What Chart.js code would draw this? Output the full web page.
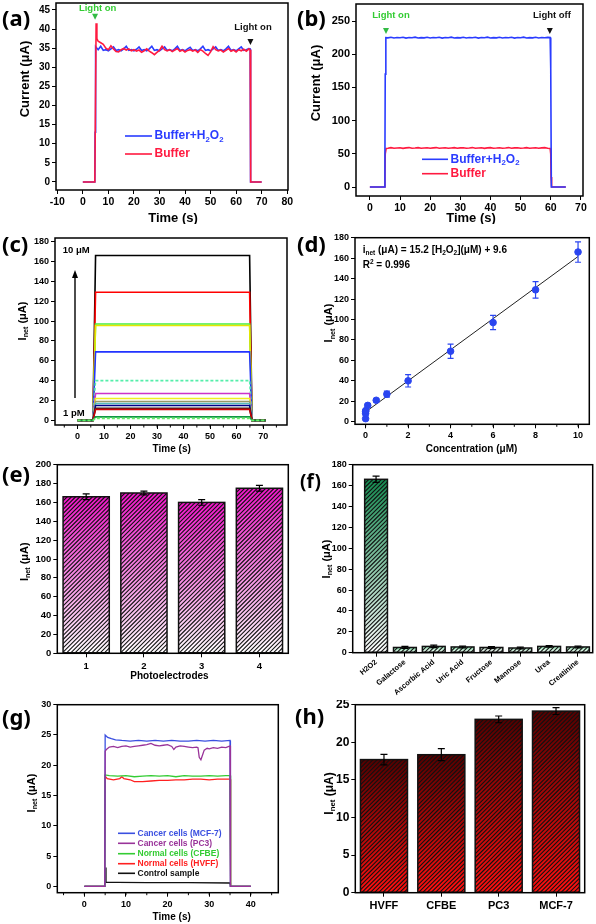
<!DOCTYPE html>
<html>
<head>
<meta charset="utf-8">
<script src="https://cdn.jsdelivr.net/npm/chart.js@4.4.1/dist/chart.umd.min.js"></script>
<style>
  body { margin: 0; background: #fff; width: 596px; height: 924px; position: relative; overflow: hidden; }
  canvas { position: absolute; }
  .lbl { position: absolute; font: bold 22px "Noto Sans", sans-serif; line-height: 22px; color: #000; }
</style>
</head>
<body>
<canvas id="ca" style="left:0;top:0" width="296" height="224"></canvas>
<canvas id="cb" style="left:296px;top:0" width="300" height="224"></canvas>
<canvas id="cc" style="left:0;top:225px" width="296" height="235"></canvas>
<canvas id="cd" style="left:296px;top:225px" width="300" height="235"></canvas>
<canvas id="ce" style="left:0;top:460px" width="296" height="240"></canvas>
<canvas id="cf" style="left:296px;top:460px" width="300" height="240"></canvas>
<canvas id="cg" style="left:0;top:700px" width="296" height="224"></canvas>
<canvas id="ch" style="left:296px;top:700px" width="300" height="224"></canvas>
<div class="lbl" style="left:2px;top:6px">(a)</div>
<div class="lbl" style="left:297px;top:6px">(b)</div>
<div class="lbl" style="left:2px;top:232px">(c)</div>
<div class="lbl" style="left:297px;top:232px">(d)</div>
<div class="lbl" style="left:2px;top:462px">(e)</div>
<div class="lbl" style="left:300px;top:470px;font-size:19px">(f)</div>
<div class="lbl" style="left:2px;top:705px">(g)</div>
<div class="lbl" style="left:295px;top:704px">(h)</div>
<script>
const FONT = "'Liberation Sans', Arial, sans-serif";

// ---------- data ----------
// (a) photocurrent, [time s, current uA]
const aBuffer = [[0,0],[4.7,0],[5.2,41.5],[5.5,37.5],
  [6,36.8],[7,36.4],[8,36.0],[9,35.0],[10,34.6],[11,35.6],[12,34.8],[13,34.1],[14,34.0],[15,34.6],
  [16,34.9],[17,34.5],[18,34.8],[19,34.3],[20,34.6],[21,34.2],[22,34.5],[23,33.9],[24,34.3],[25,34.8],
  [26,34.2],[27,33.8],[28,33.3],[29,33.9],[30,34.4],[31,35.5],[32,34.6],[33,34.3],[34,34.6],[35,34.1],
  [36,34.5],[37,34.9],[38,34.2],[39,34.5],[40,34.0],[41,34.4],[42,34.6],[43,34.2],[44,34.5],[45,33.9],
  [46,34.6],[47,34.2],[48,33.6],[49,33.1],[50,34.0],[51,35.4],[52,34.6],[53,34.3],[54,34.5],[55,34.0],
  [56,34.4],[57,34.9],[58,34.2],[59,34.5],[60,34.0],[61,34.6],[62,34.3],[63,34.7],[64,34.2],
  [65,34.8],[65.5,34.5],[65.6,20],[65.8,0],[70,0]];
const aBufferH2O2 = [[0,0],[4.7,0],[4.8,13],[4.9,15],[5.1,35.4],
  [6,34.6],[7,35.5],[8,34.4],[9,34.6],[10,34.3],[11,34.8],[12,35.3],[13,34.4],[14,34.6],[15,34.3],
  [16,34.8],[17,35.5],[18,34.4],[19,34.6],[20,34.3],[21,34.7],[22,35.3],[23,34.4],[24,34.6],[25,34.3],
  [26,34.8],[27,35.5],[28,34.4],[29,34.6],[30,34.3],[31,34.8],[32,35.3],[33,34.4],[34,34.6],[35,34.3],
  [36,34.8],[37,35.5],[38,34.4],[39,34.6],[40,34.3],[41,34.8],[42,35.2],[43,34.4],[44,34.6],[45,34.3],
  [46,34.8],[47,35.5],[48,34.4],[49,34.6],[50,34.3],[51,34.8],[52,35.3],[53,34.4],[54,34.6],[55,34.3],
  [56,34.8],[57,35.5],[58,34.4],[59,34.6],[60,34.3],[61,34.8],[62,35.3],[63,34.4],[64,34.6],
  [65,34.9],[65.5,34.8],[65.6,25],[65.7,0],[70,0]];

// (b)
const bBufferH2O2 = [[0,0],[4.8,0],[5.0,50],[5.1,170],[5.3,225],
  [6,224.6],[7,225.5],[8,224.4],[9,225.2],[10,224.7],[11,225.6],[12,224.3],[13,225.1],[14,224.8],[15,225.7],
  [16,224.5],[17,225.0],[18,224.6],[19,225.6],[20,224.4],[21,225.2],[22,224.7],[23,225.5],[24,224.3],[25,225.1],
  [26,224.8],[27,225.7],[28,224.5],[29,225.0],[30,224.6],[31,225.5],[32,224.4],[33,225.2],[34,224.7],[35,225.6],
  [36,224.3],[37,225.1],[38,224.8],[39,225.7],[40,224.5],[41,225.0],[42,224.6],[43,225.5],[44,224.4],[45,225.2],
  [46,224.7],[47,225.6],[48,224.3],[49,225.1],[50,224.8],[51,225.7],[52,224.5],[53,225.0],[54,224.6],[55,225.5],
  [56,224.4],[57,225.2],[58,224.7],[59,225.3],
  [59.8,225],[60.0,178],[60.2,0],[65,0]];
const bBuffer = [[0,0],[4.8,0],[5.0,15],[5.1,50],[5.4,58],
  [6,58.4],[7,59.3],[8,58.5],[9,58.8],[10,59.2],[11,58.3],[12,58.9],[13,59.4],[14,58.5],[15,58.7],
  [16,59.3],[17,58.4],[18,58.8],[19,59.2],[20,58.5],[21,58.9],[22,59.4],[23,58.3],[24,58.7],[25,59.2],
  [26,58.4],[27,58.8],[28,59.3],[29,58.5],[30,58.9],[31,59.2],[32,58.4],[33,58.7],[34,59.4],[35,58.5],
  [36,58.8],[37,59.2],[38,58.3],[39,58.9],[40,59.3],[41,58.5],[42,58.7],[43,59.2],[44,58.4],[45,58.8],
  [46,59.4],[47,58.5],[48,58.9],[49,59.2],[50,58.3],[51,58.7],[52,59.3],[53,58.4],[54,58.8],[55,59.2],
  [56,58.5],[57,58.9],[58,59.3],[59,58.4],
  [59.8,58],[60.0,50],[60.1,15],[60.3,0],[65,0]];

// (c) step responses: on at ~6 s, off at ~65.5 s, plateau levels (uA)
const cTime = [0, 5.8, 6.8, 64.9, 65.8, 71];
const cLevels = [166, 129, 97, 95.5, 69, 40, 27, 22, 19, 17, 15, 12, 11, 3.5, 2];
const cColors = ['#000000', '#ff0000', '#44ee44', '#e6e600', '#2233ff', '#55eeaa', '#cc33cc', '#eeee22',
                 '#999966', '#55bbbb', '#000088', '#222222', '#cc0000', '#119944', '#66ee66'];

// (d) calibration
const dConc = [0, 0, 0, 0.01, 0.1, 0.5, 1, 2, 4, 6, 8, 10];
const dInet = [3, 8, 10, 11, 16, 21, 27, 40, 69, 97, 129, 166];
const dErr  = [0, 0, 1, 1, 1, 1.5, 3, 6, 7, 7, 8, 10];
const dFitX = [0, 10];
const dFitY = [9.6, 161.6];

// (e) reproducibility
const eLabels = ['1', '2', '3', '4'];
const eInet = [166, 170, 160, 175];
const eErr = [3, 2, 3, 3];

// (f) selectivity
const fLabels = ['H2O2', 'Galactose', 'Ascorbic Acid', 'Uric Acid', 'Fructose', 'Mannose', 'Urea', 'Creatinine'];
const fPos = [1, 2, 3, 4, 5, 6, 7, 8];
const fInet = [166, 5, 6, 5.5, 5, 4.5, 6, 5.5];
const fErr = [3, 1, 1.2, 0.8, 0.8, 0.8, 0.8, 0.8];
const fTopColors = ['#138a4f', '#6fd39a', '#8fdcae', '#7fd7a4', '#a8c8b4', '#9fdcb8', '#8fdcae', '#8fdcae'];

// (g) cell samples, [time s, current uA]
const gMCF7 = [[0,0],[4.9,0],[5.0,25.0],[5.6,24.6],[6.5,24.4],[7.5,24.2],[9,24.1],[11,24.0],[13,24.1],[15,24.0],
  [17,24.1],[19,24.0],[21,24.1],[23,24.0],[25,24.0],[27,24.1],[29,24.0],[31,24.1],[33,24.0],[35,24.1],[35.1,0],[40,0]];
const gPC3 = [[0,0],[4.9,0],[5.0,22.3],[5.3,22.6],[6,23.0],[7,23.1],[8,22.9],[9,23.1],[10,23.2],[11,23.0],
  [12,23.1],[13,23.2],[14,23.3],[15,23.4],[16,23.6],[17,23.3],[18,23.2],[19,23.3],[20,23.4],[21,23.1],
  [21.5,22.6],[22,23.0],[23,23.2],[24,23.1],[25,23.0],[26,22.9],[27,23.0],[27.3,22.9],[27.6,21.3],[28,20.9],
  [28.4,21.7],[28.8,22.5],[29.5,22.8],[30,22.7],[31,22.9],[32,22.8],[33,23.0],[34,22.9],[35,23.2],[35.1,0],[40,0]];
const gCFBE = [[0,0],[4.9,0],[5,18.4],[6,18.3],[8,18.2],[10,18.3],[12,18.1],[14,18.2],[16,18.3],[18,18.2],
  [20,18.3],[22,18.1],[24,18.3],[26,18.2],[28,18.2],[30,18.3],[32,18.2],[34,18.3],[35,18.3],[35.1,13],[35.2,0],[40,0]];
const gHVFF = [[0,0],[4.9,0],[5,18.2],[5.5,17.8],[7,17.6],[8.5,17.8],[9,18.1],[9.5,17.8],[11,17.6],[12,17.3],
  [14,17.3],[16,17.4],[18,17.5],[20,17.5],[22,17.6],[24,17.6],[26,17.7],[28,17.7],[30,17.6],[32,17.7],
  [34,17.7],[35,17.7],[35.1,13.4],[35.2,0],[40,0]];
const gControl = [[0,0],[4.9,0],[5,3.1],[5.2,0.7],[8,0.65],[15,0.6],[25,0.6],[35,0.55],[35.1,0],[40,0]];

// (h) cell lines
const hLabels = ['HVFF', 'CFBE', 'PC3', 'MCF-7'];
const hInet = [17.7, 18.35, 23.05, 24.15];
const hErr = [0.7, 0.8, 0.45, 0.45];

// ---------- helpers ----------
const INET = [['I', ''], ['net', 'sub'], [' (μA)', '']];

function rich(ctx, parts, x, y, size, color, align, rot) {
  ctx.save();
  ctx.translate(x, y);
  if (rot) ctx.rotate(rot);
  ctx.fillStyle = color;
  ctx.textBaseline = 'middle';
  ctx.textAlign = 'left';
  const sz = p => (p[1] ? size * 0.65 : size);
  let total = 0;
  parts.forEach(p => { ctx.font = `bold ${sz(p)}px ${FONT}`; total += ctx.measureText(p[0]).width; });
  let cx = align === 'center' ? -total / 2 : 0;
  parts.forEach(p => {
    ctx.font = `bold ${sz(p)}px ${FONT}`;
    const dy = p[1] === 'sub' ? size * 0.3 : p[1] === 'sup' ? -size * 0.3 : 0;
    ctx.fillText(p[0], cx, dy);
    cx += ctx.measureText(p[0]).width;
  });
  ctx.restore();
}

function tri(c, tx, ty, color) {
  const x = c.scales.x.getPixelForValue(tx), y = c.scales.y.getPixelForValue(ty);
  const ctx = c.ctx;
  ctx.save();
  ctx.fillStyle = color;
  ctx.beginPath(); ctx.moveTo(x - 3, y - 6); ctx.lineTo(x + 3, y - 6); ctx.lineTo(x, y); ctx.closePath(); ctx.fill();
  ctx.restore();
}

function dataText(c, parts, tx, ty, size, color) {
  rich(c.ctx, parts, c.scales.x.getPixelForValue(tx), c.scales.y.getPixelForValue(ty), size, color, 'center', 0);
}

function legendRow(ctx, x1, x2, y, color, parts, size, textColor) {
  ctx.save();
  ctx.strokeStyle = color; ctx.lineWidth = 1.6;
  ctx.beginPath(); ctx.moveTo(x1, y); ctx.lineTo(x2, y); ctx.stroke();
  ctx.restore();
  rich(ctx, parts, x2 + 2.5, y, size, textColor, 'left', 0);
}

// short minor tick marks on the bottom axis
function minorX(c, step) {
  const s = c.scales.x, ctx = c.ctx, b = c.chartArea.bottom;
  ctx.save();
  ctx.strokeStyle = '#000'; ctx.lineWidth = 1;
  ctx.beginPath();
  for (let v = Math.ceil(s.min / step) * step; v <= s.max; v += step) {
    const x = s.getPixelForValue(v);
    ctx.moveTo(x, b); ctx.lineTo(x, b + 2.5);
  }
  ctx.stroke();
  ctx.restore();
}

function line(pairs, color, width, dash) {
  return {
    data: pairs.map(p => ({ x: p[0], y: p[1] })),
    showLine: true, borderColor: color, borderWidth: width, borderDash: dash || [],
    pointRadius: 0, tension: 0, fill: false
  };
}

function barGradient(tops, bottom) {
  return c => {
    const ch = c.chart;
    const top = Array.isArray(tops) ? tops[c.dataIndex || 0] : tops;
    if (!ch.chartArea || c.raw === undefined) return top;
    const v = typeof c.raw === 'number' ? c.raw : c.raw.y;
    const ys = ch.scales.y;
    const g = ch.ctx.createLinearGradient(0, ys.getPixelForValue(v), 0, ys.getPixelForValue(0));
    g.addColorStop(0, top);
    g.addColorStop(1, bottom);
    return g;
  };
}

const framePlugin = {
  id: 'frame',
  afterDraw(c) {
    const a = c.chartArea, ctx = c.ctx;
    ctx.save();
    ctx.strokeStyle = '#000'; ctx.lineWidth = 1.5;
    ctx.strokeRect(a.left, a.top, a.right - a.left, a.bottom - a.top);
    ctx.restore();
  }
};

const hatchPlugin = {
  id: 'hatch',
  afterDatasetsDraw(c) {
    const ctx = c.ctx;
    c.data.datasets.forEach((ds, i) => {
      if (!ds.hatch) return;
      c.getDatasetMeta(i).data.forEach(bar => {
        const p = bar.getProps(['x', 'y', 'base', 'width'], true);
        const l = p.x - p.width / 2, t = Math.min(p.y, p.base), h = Math.abs(p.base - p.y), w = p.width;
        ctx.save();
        ctx.beginPath(); ctx.rect(l, t, w, h); ctx.clip();
        ctx.strokeStyle = ds.hatch.color; ctx.lineWidth = ds.hatch.width;
        ctx.beginPath();
        for (let s = -h; s < w + h; s += ds.hatch.gap) { ctx.moveTo(l + s, t + h); ctx.lineTo(l + s + h, t); }
        ctx.stroke();
        ctx.restore();
        ctx.save();
        ctx.strokeStyle = '#111'; ctx.lineWidth = 1.5;
        ctx.strokeRect(l, t, w, h);
        ctx.restore();
      });
    });
  }
};

const errorPlugin = {
  id: 'errs',
  afterDatasetsDraw(c) {
    const ctx = c.ctx, ys = c.scales.y;
    c.data.datasets.forEach((ds, i) => {
      if (!ds.errors) return;
      c.getDatasetMeta(i).data.forEach((pt, j) => {
        const e = ds.errors[j];
        if (!e) return;
        const raw = ds.data[j];
        const v = typeof raw === 'number' ? raw : raw.y;
        const y1 = ys.getPixelForValue(v + e), y2 = ys.getPixelForValue(v - e);
        const cw = ds.errCap || 3;
        ctx.save();
        ctx.strokeStyle = ds.errColor || '#000'; ctx.lineWidth = 1.2;
        ctx.beginPath();
        ctx.moveTo(pt.x, y1); ctx.lineTo(pt.x, y2);
        ctx.moveTo(pt.x - cw, y1); ctx.lineTo(pt.x + cw, y1);
        ctx.moveTo(pt.x - cw, y2); ctx.lineTo(pt.x + cw, y2);
        ctx.stroke();
        ctx.restore();
      });
    });
  }
};

function axis(o, which) {
  const ax = {
    type: o.type || 'linear',
    offset: o.type === 'category',
    grid: { display: true, drawOnChartArea: false, drawTicks: true, tickLength: 4, color: '#000', lineWidth: 1, offset: false },
    border: { display: false },
    ticks: {
      autoSkip: false, includeBounds: false,
      maxRotation: o.rot || 0, minRotation: o.rot || 0,
      padding: o.pad === undefined ? 2 : o.pad, color: '#000',
      font: { family: FONT, size: o.font, weight: 'bold' }
    },
    afterFit: which === 'y'
      ? s => { s.width = o.fit; s.paddingTop = 0; s.paddingBottom = 0; }
      : s => { s.height = o.fit; s.paddingLeft = 0; s.paddingRight = 0; }
  };
  if (o.min !== undefined) ax.min = o.min;
  if (o.max !== undefined) ax.max = o.max;
  if (o.step) ax.ticks.stepSize = o.step;
  if (o.cb) ax.ticks.callback = o.cb;
  return ax;
}

function makeChart(id, cfg) {
  return new Chart(document.getElementById(id), {
    type: cfg.type,
    data: { labels: cfg.labels, datasets: cfg.datasets },
    options: {
      responsive: false, animation: false, devicePixelRatio: 1,
      layout: { padding: { top: cfg.top, right: cfg.right, left: 0, bottom: 0 } },
      plugins: { legend: { display: false }, tooltip: { enabled: false } },
      scales: { x: axis(cfg.x, 'x'), y: axis(cfg.y, 'y') }
    },
    plugins: [hatchPlugin, errorPlugin, framePlugin, {
      id: 'deco',
      afterDraw(c) {
        const ctx = c.ctx;
        if (cfg.yTitle) rich(ctx, cfg.yTitle.parts, cfg.yTitle.x, cfg.yTitle.y, cfg.yTitle.size, '#000', 'center', -Math.PI / 2);
        if (cfg.xTitle) rich(ctx, cfg.xTitle.parts, cfg.xTitle.x, cfg.xTitle.y, cfg.xTitle.size, '#000', 'center', 0);
        if (cfg.minorX) minorX(c, cfg.minorX);
        if (cfg.deco) cfg.deco(c, ctx);
      }
    }]
  });
}

function bars(values, tops, bottom, errs, pct) {
  return {
    data: values, errors: errs, errCap: 3.5,
    backgroundColor: barGradient(tops, bottom), borderWidth: 0,
    barPercentage: pct, categoryPercentage: 1,
    hatch: { color: '#111', width: 1.1, gap: 4.2 }
  };
}

const H2O2 = [['Buffer+H', ''], ['2', 'sub'], ['O', ''], ['2', 'sub']];

// ---------- (a) ----------
makeChart('ca', {
  type: 'scatter', top: 3, right: 8,
  x: { min: -10.5, max: 80.3, step: 10, fit: 34, font: 10.5 },
  y: { min: -2.1, max: 46.8, step: 5, fit: 56, font: 10 },
  datasets: [line(aBuffer, '#ff1a40', 1.6), line(aBufferH2O2, '#2a3cff', 1.6)],
  yTitle: { parts: [['Current (μA)', '']], x: 25, y: 79, size: 13 },
  xTitle: { parts: [['Time (s)', '']], x: 173, y: 218, size: 13 },
  deco: (c, ctx) => {
    tri(c, 4.8, 42.4, '#33bb44');
    tri(c, 65.6, 35.8, '#111');
    dataText(c, [['Light on', '']], 5.8, 45.3, 9.5, '#33cc33');
    dataText(c, [['Light on', '']], 66.6, 40.5, 9.5, '#111');
    legendRow(ctx, 125, 152, 136, '#2a3cff', H2O2, 12, '#2a3cff');
    legendRow(ctx, 125, 152, 154, '#ff1a40', [['Buffer', '']], 12, '#ff1a40');
  }
});

// ---------- (b) ----------
makeChart('cb', {
  type: 'scatter', top: 4, right: 13,
  x: { min: -4.6, max: 70.7, step: 10, fit: 28, font: 10.5 },
  y: { min: -13.5, max: 275.6, step: 50, fit: 60, font: 11 },
  datasets: [line(bBufferH2O2, '#2a3cff', 1.6), line(bBuffer, '#ff1a40', 1.6)],
  yTitle: { parts: [['Current (μA)', '']], x: 20.7, y: 83, size: 13 },
  xTitle: { parts: [['Time (s)', '']], x: 175, y: 218, size: 13 },
  deco: (c, ctx) => {
    tri(c, 5.35, 230.5, '#33bb44');
    tri(c, 59.7, 230.5, '#111');
    dataText(c, [['Light on', '']], 7.0, 258, 9.5, '#33cc33');
    dataText(c, [['Light off', '']], 60.4, 258, 9.5, '#111');
    legendRow(ctx, 126, 152, 159.3, '#2a3cff', H2O2, 12, '#2a3cff');
    legendRow(ctx, 126, 152, 173.7, '#ff1a40', [['Buffer', '']], 12, '#ff1a40');
  }
});

// ---------- (c) ----------
makeChart('cc', {
  type: 'scatter', top: 13, right: 9, minorX: 5,
  x: { min: -8.5, max: 79, step: 10, fit: 35, font: 9 },
  y: { min: -4.7, max: 183.7, step: 20, fit: 55, font: 9 },
  datasets: cLevels.map((L, i) => Object.assign(
    line(cTime.map((t, k) => [t, (k === 2 || k === 3) ? L : 0]), cColors[i], 1.6,
         (i === 5 || i === 14) ? [3, 2] : []),
    { order: cLevels.length - i })),
  yTitle: { parts: INET, x: 23, y: 96, size: 11 },
  xTitle: { parts: [['Time (s)', '']], x: 171.7, y: 224, size: 10 },
  deco: (c, ctx) => {
    rich(ctx, [['10 μM', '']], 62.7, 25, 9.5, '#000', 'left', 0);
    rich(ctx, [['1 pM', '']], 63, 188.3, 9.5, '#000', 'left', 0);
    ctx.save();
    ctx.strokeStyle = '#000'; ctx.fillStyle = '#000'; ctx.lineWidth = 1.4;
    ctx.beginPath(); ctx.moveTo(75, 173); ctx.lineTo(75, 52); ctx.stroke();
    ctx.beginPath(); ctx.moveTo(72, 53); ctx.lineTo(78, 53); ctx.lineTo(75, 45); ctx.closePath(); ctx.fill();
    ctx.restore();
  }
});

// ---------- (d) ----------
makeChart('cd', {
  type: 'scatter', top: 12.7, right: 6.7, minorX: 1,
  x: { min: -0.5, max: 10.53, step: 2, fit: 35.7, font: 9 },
  y: { min: -2.5, max: 180, step: 20, fit: 59, font: 9 },
  datasets: [
    { data: dConc.map((x, i) => ({ x, y: dInet[i] })), errors: dErr, errColor: '#2a45f0', errCap: 3,
      pointRadius: 3.3, backgroundColor: '#2a45f0', borderColor: '#2a45f0' },
    line(dFitX.map((x, i) => [x, dFitY[i]]), '#222', 1)
  ],
  yTitle: { parts: INET, x: 33.3, y: 98, size: 11 },
  xTitle: { parts: [['Concentration (μM)', '']], x: 175.5, y: 224.3, size: 10 },
  deco: (c, ctx) => {
    rich(ctx, [['i', ''], ['net', 'sub'], [' (μA) = 15.2 [H', ''], ['2', 'sub'], ['O', ''], ['2', 'sub'], ['](μM) + 9.6', '']],
         66.7, 25, 10, '#000', 'left', 0);
    rich(ctx, [['R', ''], ['2', 'sup'], [' = 0.996', '']], 66.7, 40.7, 10, '#000', 'left', 0);
  }
});

// ---------- (e) ----------
makeChart('ce', {
  type: 'bar', top: 4.7, right: 7.7, labels: eLabels,
  x: { type: 'category', fit: 46.7, font: 9.5, pad: 3 },
  y: { min: 0, max: 200, step: 20, fit: 57.3, font: 9.5 },
  datasets: [bars(eInet, '#f014c8', '#ffffff', eErr, 0.8)],
  yTitle: { parts: INET, x: 25, y: 101.7, size: 11 },
  xTitle: { parts: [['Photoelectrodes', '']], x: 169.5, y: 216, size: 10 }
});

// ---------- (f) ----------
makeChart('cf', {
  type: 'bar', top: 4.7, right: 3.3,
  x: { min: 0.19, max: 8.51, step: 1, fit: 47.3, font: 7.5, rot: 40, pad: 1, cb: v => fLabels[v - 1] || '' },
  y: { min: 0, max: 180, step: 20, fit: 56.7, font: 9 },
  datasets: [bars(fPos.map((x, i) => ({ x, y: fInet[i] })), fTopColors, '#ffffff', fErr, 0.79)],
  yTitle: { parts: INET, x: 30.7, y: 99, size: 11 }
});

// ---------- (g) ----------
const gSeries = [
  { pts: gPC3, color: '#993399', name: 'Cancer cells (PC3)', row: 143.3 },
  { pts: gMCF7, color: '#3a4fe0', name: 'Cancer cells (MCF-7)', row: 133.3 },
  { pts: gCFBE, color: '#33cc33', name: 'Normal cells (CFBE)', row: 153.7 },
  { pts: gHVFF, color: '#ff2020', name: 'Normal cells (HVFF)', row: 163.7 },
  { pts: gControl, color: '#111111', name: 'Control sample', row: 173.3 }
];
makeChart('cg', {
  type: 'scatter', top: 4.7, right: 17.7, minorX: 5,
  x: { min: -6.5, max: 46.6, step: 10, fit: 31.3, font: 9 },
  y: { min: -1.05, max: 30, step: 5, fit: 57.3, font: 9 },
  datasets: gSeries.map(s => line(s.pts, s.color, 1.3)),
  yTitle: { parts: INET, x: 31.7, y: 93, size: 11 },
  xTitle: { parts: [['Time (s)', '']], x: 171.7, y: 217.3, size: 10 },
  deco: (c, ctx) => {
    gSeries.forEach(s => legendRow(ctx, 118, 135, s.row, s.color, [[s.name, '']], 8.5,
      s.color === '#111111' ? '#111' : s.color));
  }
});

// ---------- (h) ----------
makeChart('ch', {
  type: 'bar', top: 4.7, right: 11.3, labels: hLabels,
  x: { type: 'category', fit: 31.3, font: 11, pad: 3 },
  y: { min: 0, max: 25, step: 5, fit: 59.3, font: 12 },
  datasets: [bars(hInet, '#550000', '#ff1010', hErr, 0.82)],
  yTitle: { parts: INET, x: 33.3, y: 93.5, size: 12 }
});
</script>
</body>
</html>
